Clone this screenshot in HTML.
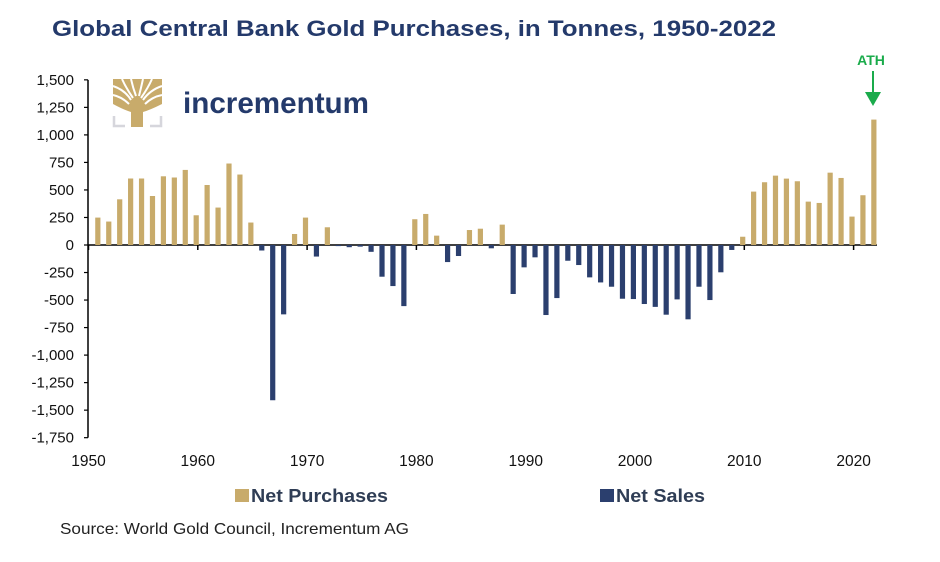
<!DOCTYPE html>
<html><head><meta charset="utf-8">
<style>
body{margin:0;background:#fff;width:940px;height:562px;overflow:hidden;font-family:"Liberation Sans",Arial,sans-serif;}
svg{display:block}
</style></head>
<body>
<svg width="940" height="562" viewBox="0 0 940 562">
<text x="52" y="36" font-size="22" font-weight="bold" fill="#243a6b" textLength="724" lengthAdjust="spacingAndGlyphs">Global Central Bank Gold Purchases, in Tonnes, 1950-2022</text>
<g>
<path d="M113 79 H162 V104 Q150 110 143 112 V127 H131 V112 Q124 110 113 104 Z" fill="#c8ab6b"/>
<path d="M113 86 Q125 90 131 100 M113 95 Q122 97 129 104 M122 79 Q126 88 133 98 M131 79 Q133 88 136 96 M143 79 Q141 88 139 96 M152 79 Q148 88 141 98 M162 86 Q150 90 143 100 M162 95 Q152 97 145 104" stroke="#fff" stroke-width="2" fill="none"/>
<path d="M114 116 v10 h11 M161 116 v10 h-11" stroke="#d6d6dc" stroke-width="2.5" fill="none"/>
<text x="183" y="113" font-size="30" fill="#243a6b" font-weight="bold" textLength="186" lengthAdjust="spacingAndGlyphs">incrementum</text>
</g>
<g id="axes"></g>
<g id="bars"></g>
<g>
<text x="871" y="65" font-size="14" font-weight="bold" fill="#1aab4b" text-anchor="middle">ATH</text>
<line x1="873" y1="71" x2="873" y2="94" stroke="#1aab4b" stroke-width="2"/>
<path d="M865 92 L881 92 L873 106 Z" fill="#1aab4b"/>
</g>
<g>
<rect x="235" y="489" width="14" height="13" fill="#c8ab6b"/>
<text x="251" y="502" font-size="18" font-weight="bold" fill="#2f3d55" textLength="137" lengthAdjust="spacingAndGlyphs">Net Purchases</text>
<rect x="600" y="489" width="14" height="13" fill="#2b3f6e"/>
<text x="616" y="502" font-size="18" font-weight="bold" fill="#2f3d55" textLength="89" lengthAdjust="spacingAndGlyphs">Net Sales</text>
</g>
<text x="60" y="534" font-size="16" fill="#222" textLength="349" lengthAdjust="spacingAndGlyphs">Source: World Gold Council, Incrementum AG</text>
</svg>
<script>
const years=[1951,1952,1953,1954,1955,1956,1957,1958,1959,1960,1961,1962,1963,1964,1965,1966,1967,1968,1969,1970,1971,1972,1973,1974,1975,1976,1977,1978,1979,1980,1981,1982,1983,1984,1985,1986,1987,1988,1989,1990,1991,1992,1993,1994,1995,1996,1997,1998,1999,2000,2001,2002,2003,2004,2005,2006,2007,2008,2009,2010,2011,2012,2013,2014,2015,2016,2017,2018,2019,2020,2021,2022];
const values=[249,213,415,604,604,445,624,613,682,270,545,340,740,640,204,-50,-1410,-630,100,249,-105,161,-10,-20,-15,-62,-288,-373,-555,234,282,85,-155,-100,136,148,-30,185,-445,-203,-112,-636,-482,-143,-182,-294,-340,-379,-488,-491,-536,-562,-633,-494,-675,-379,-500,-248,-45,75,485,570,630,603,579,394,382,657,609,258,452,1139];
const yTicks=[1500,1250,1000,750,500,250,0,-250,-500,-750,-1000,-1250,-1500,-1750];
const xTicks=[1950,1960,1970,1980,1990,2000,2010,2020];
const NS="http://www.w3.org/2000/svg";
function Y(v){return 245 - v*0.1101;}
function X(yr){return 88.5+(yr-1950)*10.93;}
function mk(t,a,p){const e=document.createElementNS(NS,t);for(const k in a)e.setAttribute(k,a[k]);p.appendChild(e);return e;}
const ax=document.getElementById('axes'), bg=document.getElementById('bars');
const yl=mk('line',{x1:88,y1:Y(1500),x2:88,y2:Y(-1750),stroke:'#000','stroke-width':1.5},ax);


yTicks.forEach(v=>{
 mk('line',{x1:84,y1:Y(v),x2:88,y2:Y(v),stroke:'#000','stroke-width':1.2},ax);
 const t=mk('text',{x:74,y:Y(v)+5,'font-size':15,'text-anchor':'end',fill:'#111'},ax);
 t.textContent=v.toLocaleString('en-US');
 
 
});
xTicks.forEach(yr=>{
 mk('line',{x1:X(yr),y1:245,x2:X(yr),y2:250,stroke:'#000','stroke-width':1.5},ax);
 const t=mk('text',{x:X(yr),y:466,'font-size':15.5,'text-anchor':'middle',fill:'#111'},ax);
 t.textContent=yr;
 
 
});
years.forEach((yr,i)=>{
 const v=values[i], cx=X(yr)-1.6;
 const r=mk('rect',{x:cx-2.6,y:Math.min(Y(v),245),width:5.2,height:Math.max(Math.abs(Y(v)-245),0.8),fill:v>=0?'#c8ab6b':'#2b3f6e'},bg);
 
 
});
const zl=mk('line',{x1:88,y1:245,x2:877,y2:245,stroke:'#000','stroke-width':1.5},ax);


</script>
</body></html>
